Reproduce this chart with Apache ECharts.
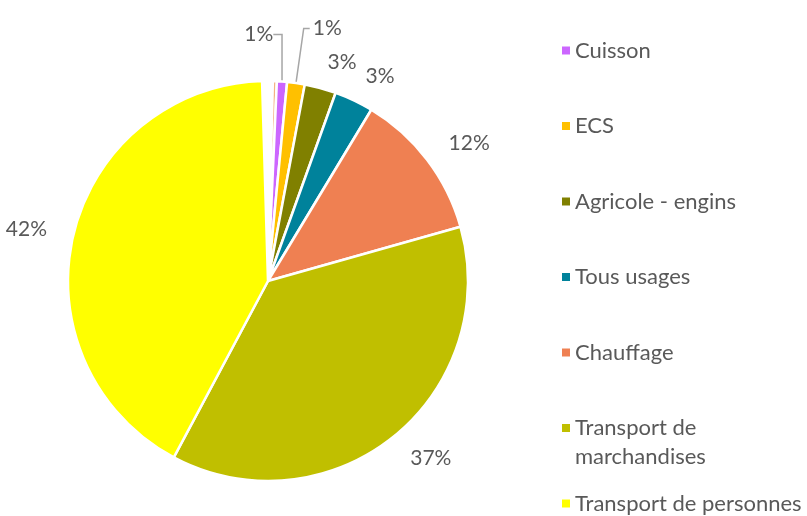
<!DOCTYPE html>
<html>
<head>
<meta charset="utf-8">
<script src="https://cdn.jsdelivr.net/npm/echarts@6/dist/echarts.min.js"></script>
<style>
html, body { margin: 0; padding: 0; background: #fff; }
#main { width: 807px; height: 516px; }
</style>
</head>
<body>
<div id="main"></div>
<script>
// parts (%), clockwise from just left of the top
var categories = ['Autre', 'Divers', 'Cuisson', 'ECS', 'Agricole - engins', 'Tous usages', 'Chauffage', 'Transport de marchandises', 'Transport de personnes'];
var values = [0.86, 0.32, 0.82, 1.42, 2.55, 3.15, 12.0, 37.2, 41.75];
var colors = ['#FFFFFF', '#F4B183', '#CC66FF', '#FFC000', '#808000', '#00829B', '#EF8052', '#C0BF00', '#FFFF00'];
var legendNames = ['Cuisson', 'ECS', 'Agricole - engins', 'Tous usages', 'Chauffage', 'Transport de marchandises', 'Transport de personnes'];

var textColor = '#595959';
var font = 'Lato';

var pieData = [];
for (var i = 0; i < categories.length; i++) {
    var item = {
        name: categories[i],
        value: values[i],
        itemStyle: { color: colors[i] }
    };
    if (i < 2) {
        item.label = { show: false };
    }
    if (categories[i] === 'Cuisson') {
        item.label = { distanceToLabelLine: 0, padding: [0, 0, 14, 0] };
        item.labelLine = { show: true, length: 47, length2: -12 };
    }
    if (categories[i] === 'ECS') {
        item.label = { distanceToLabelLine: 3, padding: [0, 0, 16, 0] };
        item.labelLine = { show: true, length: 55, length2: 6 };
    }
    pieData.push(item);
}

// one legend per entry, so the two-line entry keeps Excel's spacing
var legends = [];
for (var k = 0; k < legendNames.length; k++) {
    var twoLines = legendNames[k] === 'Transport de marchandises';
    legends.push({
        orient: 'vertical',
        left: 562,
        top: 36 + k * 75.5,
        padding: 0,
        data: [legendNames[k]],
        icon: twoLines ? 'path://M0,0h8v8h-8z M0,37h8' : 'rect',
        itemWidth: 8,
        itemHeight: twoLines ? 37 : 8,
        itemStyle: { borderWidth: 0 },
        selectedMode: false,
        formatter: function (name) {
            return name === 'Transport de marchandises' ? 'Transport de\nmarchandises' : name;
        },
        textStyle: { color: textColor, fontSize: 22, fontFamily: font, lineHeight: 29 }
    });
}

var myChart = echarts.init(document.getElementById('main'));
var option = {
    animation: false,
    backgroundColor: '#fff',
    textStyle: { fontFamily: font },
    legend: legends,
    series: [{
        type: 'pie',
        center: [268, 281],
        radius: 200,
        startAngle: 91.7,
        clockwise: true,
        avoidLabelOverlap: false,
        itemStyle: { borderColor: '#fff', borderWidth: 2.5 },
        emphasis: { disabled: true },
        label: {
            position: 'outside',
            color: textColor,
            fontSize: 21,
            fontFamily: font,
            distanceToLabelLine: 0,
            formatter: function (p) {
                return Math.round(p.percent) + '%';
            }
        },
        labelLine: {
            show: false,
            length: 27,
            length2: 0,
            lineStyle: { color: '#A6A6A6', width: 1.5 }
        },
        labelLayout: function (p) {
            if (categories[p.dataIndex] === 'Cuisson') {
                return { align: 'right' };
            }
        },
        data: pieData
    }]
};
myChart.setOption(option);
</script>
</body>
</html>
